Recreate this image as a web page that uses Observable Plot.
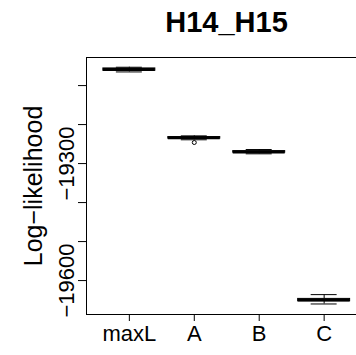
<!DOCTYPE html>
<html>
<head>
<meta charset="utf-8">
<script src="https://cdn.jsdelivr.net/npm/d3@7"></script>
<script src="https://cdn.jsdelivr.net/npm/@observablehq/plot@0.6"></script>
<style>
  html, body { margin: 0; padding: 0; background: #fff; overflow: hidden; width: 356px; height: 355px; }
  #title {
    box-sizing: border-box; height: 50px; width: 367px;
    padding: 8px 0 0 86px; white-space: nowrap;
    font: bold 29px/29px "Liberation Sans", Arial, sans-serif; color: #000;
  }
  #title span { display: block; width: 281px; text-align: center; }
  #chart { width: 367px; }
  #chart svg { max-width: none !important; width: 367px; height: 305px !important; display: block; }
</style>
</head>
<body>
<div id="title"><span>H14_H15</span></div>
<div id="chart"></div>
<script>
// Five-number summaries of the log-likelihood for each model
const categories    = ["maxL", "A", "B", "C"];
const lowWhisker    = [-19065, -19239, -19275, -19660];
const lowerQuartile = [-19062, -19236, -19272, -19653];
const medians       = [-19059, -19234, -19270, -19650];
const upperQuartile = [-19056, -19232, -19268, -19647];
const highWhisker   = [-19053, -19229, -19264, -19636];
// Points beyond the whiskers
const outlierCategory = ["A"];
const outlierValue    = [-19246];
// Axis ticks; only some carry a label
const yTicks   = [-19100, -19200, -19300, -19400, -19500, -19600];
const yLabeled = [-19300, -19600];

const minus = v => String(v).replace("-", "\u2212");

const rows = categories.map((name, i) => ({
  pos: i + 1, name,
  lo: lowWhisker[i], q1: lowerQuartile[i], med: medians[i],
  q3: upperQuartile[i], hi: highWhisker[i]
}));
const outliers = outlierCategory.map((c, i) => ({
  pos: categories.indexOf(c) + 1, value: outlierValue[i]
}));

const half = 0.4, stapleHalf = 0.2;

const chart = Plot.plot({
  width: 367,
  height: 305,
  marginTop: 7,
  marginBottom: 41,
  marginLeft: 86,
  marginRight: 0.5,
  style: { fontFamily: "'Liberation Sans', Arial, sans-serif", color: "#000", background: "#fff" },
  x: { domain: [0.34, 4.66] },
  y: { domain: [-19687, -19028] },
  marks: [
    // whiskers (dashed) from box to staple
    Plot.ruleX(rows, { x: "pos", y1: "q3", y2: "hi", stroke: "#000", strokeDasharray: "4,4" }),
    Plot.ruleX(rows, { x: "pos", y1: "q1", y2: "lo", stroke: "#000", strokeDasharray: "4,4" }),
    // staples
    Plot.ruleY(rows, { y: "hi", x1: d => d.pos - stapleHalf, x2: d => d.pos + stapleHalf, stroke: "#000" }),
    Plot.ruleY(rows, { y: "lo", x1: d => d.pos - stapleHalf, x2: d => d.pos + stapleHalf, stroke: "#000" }),
    // boxes
    Plot.rect(rows, { x1: d => d.pos - half, x2: d => d.pos + half, y1: "q1", y2: "q3", fill: "#fff", stroke: "#000", strokeWidth: 1 }),
    // medians
    Plot.ruleY(rows, { y: "med", x1: d => d.pos - half, x2: d => d.pos + half, stroke: "#000", strokeWidth: 3 }),
    // outliers
    Plot.dot(outliers, { x: "pos", y: "value", r: 2, stroke: "#000", fill: "none", strokeWidth: 1 }),
    // axes
    Plot.axisX({ ticks: [1, 2, 3, 4], tickFormat: i => categories[i - 1], tickSize: 7, tickPadding: 4, fontSize: 22, label: null }),
    Plot.axisY({ ticks: yTicks, tickFormat: () => "", tickSize: 8, label: null }),
    Plot.text(yLabeled, { y: d => d, text: d => minus(d), frameAnchor: "left", textAnchor: "middle", dx: -13, rotate: -90, lineAnchor: "bottom", fontSize: 22, fill: "#000" }),
    Plot.text(["Log\u2212likelihood"], { text: d => d, frameAnchor: "left", textAnchor: "middle", dx: -45, rotate: -90, lineAnchor: "bottom", fontSize: 25, fill: "#000" }),
    Plot.frame({ stroke: "#000" })
  ]
});
document.getElementById("chart").appendChild(chart);
</script>
</body>
</html>
